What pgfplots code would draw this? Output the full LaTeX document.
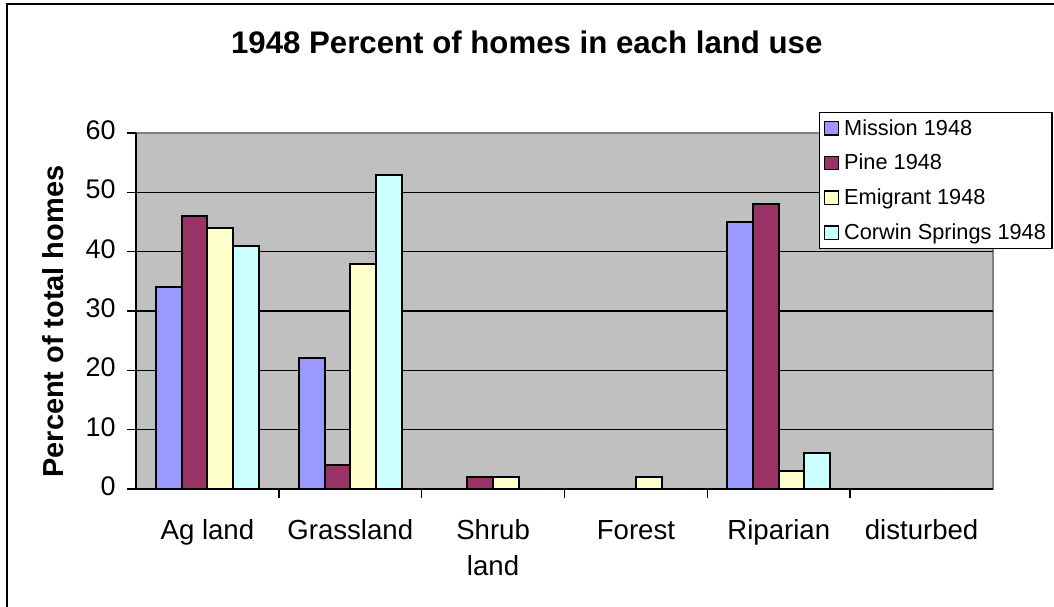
\documentclass[border=0pt]{standalone}
\usepackage{pgfplots}
\pgfplotsset{compat=1.18}
\usepackage{fontspec}
\setmainfont{Liberation Sans}
\definecolor{cMission}{HTML}{9999FF}
\definecolor{cPine}{HTML}{993366}
\definecolor{cEmig}{HTML}{FFFFCC}
\definecolor{cCorwin}{HTML}{CCFFFF}
\definecolor{plotgray}{HTML}{C0C0C0}
\definecolor{bordergray}{HTML}{808080}
\begin{document}
\begin{tikzpicture}[x=0.75pt,y=0.75pt]
\path[use as bounding box] (0,0) rectangle (1054,607);
\draw[line width=1.5pt] (6.5,0) -- (6.5,602.5) -- (1054,602.5);
\begin{axis}[
  at={(102pt,88.5pt)}, anchor=south west,
  scale only axis, width=642.75pt, height=267pt,
  ybar=0pt, bar width=19.3pt,
  xmin=-0.5, xmax=5.5, ymin=0, ymax=60,
  axis lines*=left,
  axis line style={line width=1.5pt, black},
  axis background/.style={fill=plotgray, draw=bordergray, line width=1.5pt},
  xtick={0,...,5},
  xticklabels={Ag land, Grassland, {Shrub\\land}, Forest, Riparian, disturbed},
  typeset ticklabels with strut,
  xticklabel style={align=center, font=\fontsize{20.7}{27}\selectfont, yshift=-9pt},
  every major x tick/.style={draw=none},
  minor x tick num=1,
  minor tick length=6.75pt,
  every minor x tick/.style={black, line width=1.2pt},
  ytick={0,10,...,60},
  major tick length=6.75pt,
  tick align=outside,
  ytick style={black, line width=1.2pt},
  yticklabel style={font=\fontsize{20.2}{24}\selectfont, xshift=-5pt},
  /pgf/number format/assume math mode=true,
  extra y ticks={10,20,30,40,50},
  extra y tick labels={},
  extra y tick style={grid=major, major tick length=0pt},
  grid style={black, line width=1.2pt},
  title={\bfseries 1948 Percent of homes in each land use},
  title style={at={(rel axis cs:0.456,1.232)}, anchor=center, font=\fontsize{23.4}{27}\selectfont},
  ylabel={\bfseries Percent of total homes},
  ylabel style={at={(rel axis cs:-0.097,0.47)}, anchor=center, font=\fontsize{21.7}{26}\selectfont},
  legend style={at={(rel axis cs:0.797,1.059)}, anchor=north west, draw=black, line width=1pt, fill=white,
     font=\fontsize{16.3}{20}\selectfont, row sep=8.8pt, inner xsep=3pt, inner ysep=3pt,
     nodes={inner xsep=1.5pt}},
  legend cell align=left,
  legend image code/.code={\draw[#1, draw=black, line width=1.2pt] (0pt,-5pt) rectangle (10.5pt,5pt); \path (12.5pt,0pt);},
]
\addplot[fill=cMission, draw=black, line width=1.5pt] coordinates {(0,34) (1,22) (2,0) (3,0) (4,45) (5,0)};
\addplot[fill=cPine, draw=black, line width=1.5pt] coordinates {(0,46) (1,4) (2,2) (3,0) (4,48) (5,0)};
\addplot[fill=cEmig, draw=black, line width=1.5pt] coordinates {(0,44) (1,38) (2,2) (3,2) (4,3) (5,0)};
\addplot[fill=cCorwin, draw=black, line width=1.5pt] coordinates {(0,41) (1,53) (2,0) (3,0) (4,6) (5,0)};
\legend{Mission 1948, Pine 1948, Emigrant 1948, Corwin Springs 1948}
\end{axis}
\end{tikzpicture}
\end{document}
